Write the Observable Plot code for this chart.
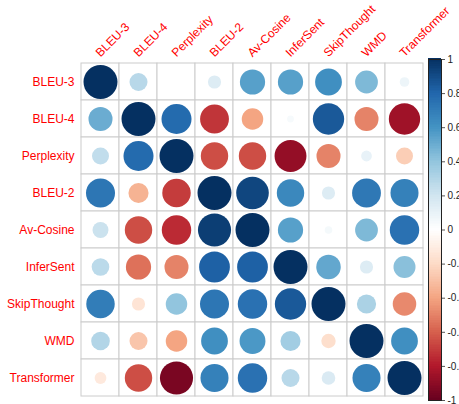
<!DOCTYPE html>
<html>
<head>
<meta charset="utf-8">
<script src="https://cdn.jsdelivr.net/npm/d3@7"></script>
<script src="https://cdn.jsdelivr.net/npm/@observablehq/plot@0.6"></script>
<style>
  body { margin: 0; background: white; }
  #wrap { position: relative; width: 459px; height: 404px; overflow: hidden; font-family: "Liberation Sans", Arial, sans-serif; }
  #wrap svg { position: absolute; top: 0; }
</style>
</head>
<body>
<div id="wrap"></div>
<script>
const labels = ["BLEU-3", "BLEU-4", "Perplexity", "BLEU-2", "Av-Cosine", "InferSent", "SkipThought", "WMD", "Transformer"];

const rowBLEU3       = [1.00, 0.28, 0.00, 0.15, 0.55, 0.55, 0.62, 0.45, 0.08];
const rowBLEU4       = [0.50, 1.00, 0.78, -0.72, -0.40, 0.04, 0.85, -0.50, -0.85];
const rowPerplexity  = [0.25, 0.78, 1.00, -0.65, -0.65, -0.88, -0.50, 0.10, -0.25];
const rowBLEU2       = [0.73, -0.35, -0.70, 1.00, 0.92, 0.65, 0.15, 0.72, 0.68];
const rowAvCosine    = [0.22, -0.65, -0.75, 0.95, 1.00, 0.55, 0.05, 0.45, 0.75];
const rowInferSent   = [0.27, -0.55, -0.50, 0.82, 0.82, 1.00, 0.52, 0.15, 0.42];
const rowSkipThought = [0.70, -0.15, 0.40, 0.73, 0.75, 0.85, 1.00, 0.32, -0.48];
const rowWMD         = [0.30, -0.28, -0.40, 0.62, 0.58, 0.35, -0.18, 1.00, 0.62];
const rowTransformer = [-0.12, -0.65, -0.95, 0.68, 0.75, 0.28, 0.16, 0.68, 1.00];

const colorbarTicks = [-1, -0.8, -0.6, -0.4, -0.2, 0, 0.2, 0.4, 0.6, 0.8, 1];
const paletteStops = [-1, -0.8, -0.6, -0.4, -0.2, 0, 0.2, 0.4, 0.6, 0.8, 1];
const paletteColors = ["#67001F", "#B2182B", "#D6604D", "#F4A582", "#FDDBC7", "#FFFFFF", "#D1E5F0", "#92C5DE", "#4393C3", "#2166AC", "#053061"];

const matrix = [rowBLEU3, rowBLEU4, rowPerplexity, rowBLEU2, rowAvCosine, rowInferSent, rowSkipThought, rowWMD, rowTransformer];
const cells = [];
matrix.forEach((vals, i) => vals.forEach((v, j) => cells.push({row: labels[i], col: labels[j], value: v})));

const colorScale = {type: "linear", domain: paletteStops, range: paletteColors, clamp: true};

const main = Plot.plot({
  width: 459, height: 404,
  marginLeft: 81, marginRight: 36, marginTop: 59, marginBottom: 4,
  style: {background: "transparent", fontFamily: "Liberation Sans, Arial, sans-serif"},
  x: {type: "band", domain: labels, padding: 0, axis: null},
  y: {type: "band", domain: labels, padding: 0, axis: null},
  r: {type: "sqrt", domain: [0, 1], range: [0, 17]},
  color: colorScale,
  marks: [
    Plot.cell(cells, {x: "col", y: "row", fill: "white", stroke: "#cccccc", strokeWidth: 1}),
    Plot.dot(cells, {x: "col", y: "row", r: d => Math.abs(d.value), fill: "value", stroke: null}),
    Plot.text(labels, {x: d => d, frameAnchor: "top", rotate: -45, textAnchor: "start", lineAnchor: "bottom", dy: -2, fill: "red", fontSize: 12}),
    Plot.text(labels, {y: d => d, frameAnchor: "left", textAnchor: "end", dx: -7, fill: "red", fontSize: 12})
  ]
});
main.style.left = "0px";

const step = 0.01;
const gradient = d3.range(-1, 1 - 1e-9, step);
const bar = Plot.plot({
  width: 49, height: 404,
  marginLeft: 18, marginRight: 18, marginTop: 59, marginBottom: 4,
  style: {background: "transparent", fontFamily: "Liberation Sans, Arial, sans-serif", overflow: "visible"},
  x: {domain: [0, 1], axis: null},
  y: {domain: [-1, 1], axis: null},
  color: colorScale,
  marks: [
    Plot.rect(gradient, {x1: 0, x2: 1, y1: d => d, y2: d => d + step + 0.004, fill: d => d + step / 2, shapeRendering: "crispEdges"}),
    Plot.frame({stroke: "#222", strokeWidth: 1}),
    Plot.axisY(colorbarTicks, {anchor: "right", tickSize: 3, tickPadding: 3, fontSize: 10, stroke: "#555", fill: "#222",
      tickFormat: d => String(Math.round(d * 10) / 10)})
  ]
});
bar.style.left = "410px";

const wrap = document.getElementById("wrap");
wrap.appendChild(main);
wrap.appendChild(bar);
</script>
</body>
</html>
